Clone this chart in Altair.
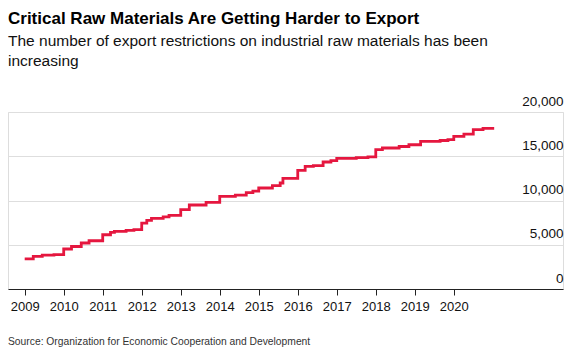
import altair as alt
import pandas as pd

# Data (step-after points: decimal year, count of restrictions)
years = [2009.00, 2009.22, 2009.45, 2009.75, 2010.00, 2010.20, 2010.45, 2010.65,
         2011.00, 2011.20, 2011.30, 2011.60, 2011.80, 2012.00, 2012.13, 2012.25,
         2012.55, 2012.70, 2013.00, 2013.22, 2013.65, 2014.00, 2014.40, 2014.68,
         2014.85, 2015.00, 2015.35, 2015.55, 2015.62, 2016.00, 2016.19, 2016.40,
         2016.65, 2016.85, 2017.00, 2017.50, 2017.80, 2018.00, 2018.17, 2018.60,
         2018.85, 2019.15, 2019.65, 2019.85, 2020.00, 2020.26, 2020.50, 2020.75,
         2021.00]
values = [3400, 3680, 3820, 3880, 4520, 4800, 5200, 5450,
          6130, 6400, 6510, 6620, 6720, 7450, 7750, 7970,
          8150, 8320, 8960, 9490, 9780, 10460, 10600, 10900,
          11050, 11410, 11670, 11980, 12500, 13400, 13850, 13950,
          14350, 14500, 14760, 14850, 14920, 15740, 15930, 16100,
          16300, 16680, 16780, 16880, 17240, 17510, 18000, 18150,
          18300]
tick_years = [2009, 2010, 2011, 2012, 2013, 2014, 2015, 2016, 2017, 2018, 2019, 2020]
y_ticks = [0, 5000, 10000, 15000, 20000]

title_text = "Critical Raw Materials Are Getting Harder to Export"
subtitle_lines = ["The number of export restrictions on industrial raw materials has been",
                  "increasing"]
source_text = "Source: Organization for Economic Cooperation and Development"

FONT = "Liberation Sans"

df = pd.DataFrame({"year": years, "value": values})

line = alt.Chart(df).mark_line(
    interpolate="step-after", color="#e5173f", strokeWidth=2.8
).encode(
    x=alt.X("year:Q",
            scale=alt.Scale(domain=[2008.572, 2022.80], nice=False, zero=False),
            axis=alt.Axis(values=tick_years, format="d", title=None, grid=False,
                          domain=True, domainColor="#222", domainWidth=1,
                          ticks=True, tickColor="#222", tickSize=6,
                          labelFont=FONT, labelFontSize=13, labelColor="#111",
                          labelPadding=5, labelFlush=False)),
    y=alt.Y("value:Q",
            scale=alt.Scale(domain=[0, 20000], nice=False),
            axis=alt.Axis(orient="right", values=y_ticks, format=",d", title=None,
                          grid=True, gridColor="#dedede", gridWidth=1,
                          domain=False, ticks=False,
                          labelAlign="right", labelBaseline="alphabetic",
                          labelOffset=-7, labelPadding=0,
                          labelFont=FONT, labelFontSize=13.5, labelColor="#111"))
)

src = alt.Chart(pd.DataFrame({"t": [source_text]})).mark_text(
    align="left", baseline="middle", font=FONT, fontSize=10.3, color="#333"
).encode(x=alt.value(0), y=alt.value(230), text="t:N")

chart = alt.layer(line, src).properties(
    width=555,
    height=177,
    padding={"left": 8, "top": 112, "right": 12, "bottom": 66},
    autosize=alt.AutoSizeParams(type="none"),
    title=alt.TitleParams(
        text=title_text,
        subtitle=subtitle_lines,
        anchor="start",
        frame="group",
        font=FONT, fontSize=17, fontWeight="bold", color="#000",
        subtitleFont=FONT, subtitleFontSize=15.5, subtitleColor="#111",
        subtitleLineHeight=20, subtitlePadding=6,
        offset=24,
    ),
).configure_view(stroke=None).configure(background="white")

chart.save("out.html", embed_options={"renderer": "svg", "actions": False})
